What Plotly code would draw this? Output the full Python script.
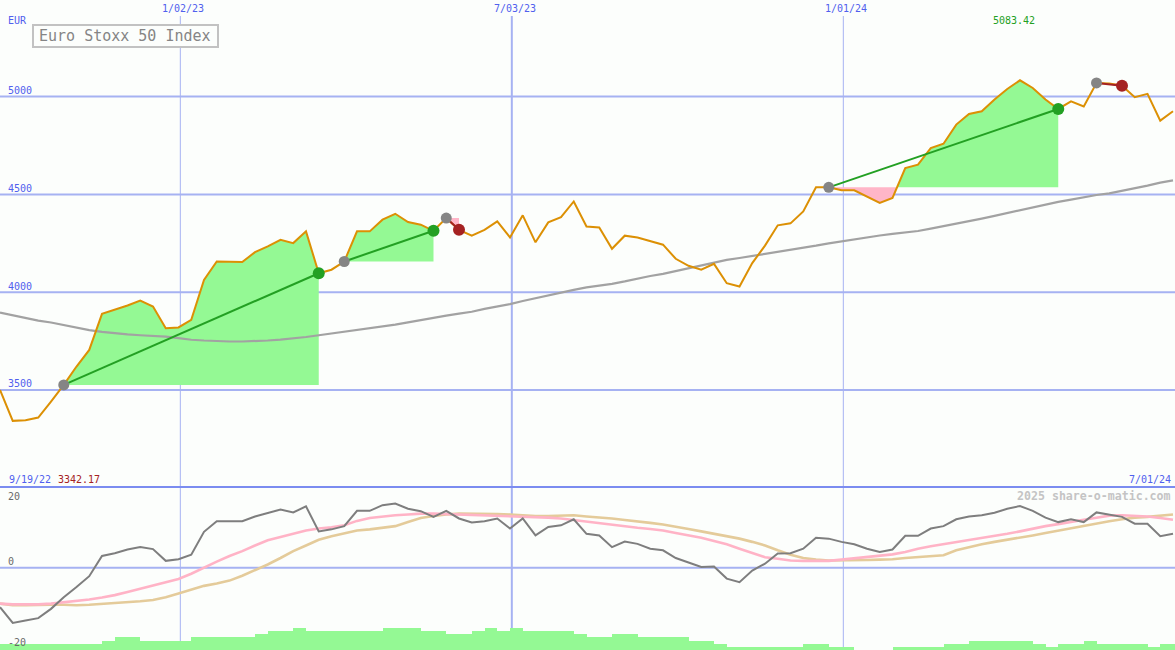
import plotly.graph_objects as go
import pandas as pd

# ---------------- data ----------------
START = "2022-09-25"
N_WEEKS = 93

price = [3500, 3342.17, 3345, 3359, 3441, 3526, 3620, 3705, 3889, 3910,
         3932, 3957, 3927, 3816, 3820, 3859, 4063, 4157, 4154, 4154,
         4205, 4234, 4268, 4251, 4311, 4097, 4115, 4157, 4311, 4311,
         4371, 4401, 4359, 4345, 4314, 4379, 4319, 4289, 4319, 4362,
         4280, 4393, 4255, 4357, 4384, 4464, 4336, 4331, 4222, 4289,
         4280, 4260, 4243, 4171, 4135, 4115, 4145, 4046, 4029, 4149,
         4238, 4342, 4352, 4413, 4536, 4536, 4521, 4521, 4487, 4456,
         4482, 4635, 4652, 4737, 4759, 4857, 4911, 4925, 4985, 5039,
         5083.42, 5044, 4985, 4937, 4976, 4950, 5070, 5067, 5056, 4997,
         5014, 4877, 4925]

ma_long = [3896, 3882, 3868, 3855, 3845, 3831, 3820, 3806, 3797, 3790,
           3784, 3780, 3777, 3773, 3765, 3757, 3753, 3750, 3748, 3748,
           3750, 3753, 3758, 3764, 3771, 3780, 3789, 3797, 3806, 3815,
           3824, 3834, 3846, 3858, 3870, 3880, 3890, 3900, 3915, 3927,
           3939, 3955, 3970, 3985, 3998, 4012, 4025, 4033, 4043, 4055,
           4070, 4083, 4094, 4108, 4122, 4137, 4152, 4165, 4175, 4185,
           4195, 4205, 4215, 4225, 4238, 4250, 4260, 4272, 4282, 4290,
           4298, 4306, 4313, 4325, 4337, 4350, 4362, 4376, 4390, 4405,
           4418, 4432, 4450, 4462, 4473, 4485, 4497, 4505, 4518, 4530,
           4545, 4560, 4572]

osc = [-9.8, -13.7, -13.1, -12.5, -10.2, -7.3, -4.8, -2.1, 2.9, 3.6,
       4.5, 5.1, 4.6, 1.7, 2.1, 3.2, 8.9, 11.5, 11.5, 11.5,
       12.7, 13.6, 14.4, 13.7, 15.2, 9.0, 9.5, 10.3, 14.1, 14.1,
       15.5, 15.9, 14.6, 14.0, 12.6, 14.1, 12.2, 11.2, 11.5, 12.2,
       9.7, 12.2, 8.0, 10.1, 10.5, 12.0, 8.4, 8.0, 5.1, 6.5,
       5.9, 4.7, 4.3, 2.4, 1.2, 0.2, 0.3, -2.7, -3.6, -0.7,
       1.0, 3.5, 3.6, 4.7, 7.4, 7.2, 6.4, 5.8, 4.7, 3.9,
       4.5, 7.9, 7.9, 9.7, 10.3, 12.0, 12.7, 13.0, 13.6, 14.6,
       15.3, 14.1, 12.4, 11.3, 12.0, 11.3, 13.7, 13.2, 12.6, 10.9,
       10.9, 7.8, 8.4]

osc_fast = [-8.9, -9.1, -9.1, -9.1, -8.9, -8.6, -8.3, -7.9, -7.4, -6.8,
            -6.0, -5.2, -4.3, -3.6, -2.8, -1.5, 0.1, 1.5, 2.9, 4.1,
            5.5, 6.8, 7.6, 8.4, 9.2, 9.7, 10.0, 10.5, 11.6, 12.3,
            12.7, 13.0, 13.2, 13.4, 13.4, 13.3, 13.2, 13.0, 13.0, 12.9,
            12.8, 12.7, 12.6, 12.4, 12.2, 11.8, 11.5, 11.1, 10.7, 10.3,
            9.9, 9.6, 9.2, 8.6, 8.0, 7.4, 6.6, 5.8, 4.7, 3.6,
            2.6, 2.2, 1.8, 1.7, 1.7, 1.7, 2.0, 2.3, 2.6, 2.9,
            3.3, 3.9, 4.7, 5.3, 5.8, 6.3, 6.8, 7.3, 7.9, 8.4,
            9.0, 9.7, 10.3, 10.8, 11.4, 11.9, 12.4, 12.9, 13.0, 12.9,
            12.7, 12.3, 11.9]

osc_slow = [-8.9, -9.3, -9.3, -9.2, -9.2, -9.2, -9.3, -9.2, -9.0, -8.8,
            -8.6, -8.3, -8.0, -7.3, -6.4, -5.5, -4.5, -3.9, -3.2, -2.0,
            -0.7, 0.8, 2.4, 4.1, 5.5, 6.9, 7.8, 8.5, 9.2, 9.5,
            9.9, 10.3, 11.3, 12.3, 12.8, 13.2, 13.4, 13.4, 13.4, 13.3,
            13.2, 13.0, 12.8, 12.8, 12.9, 13.0, 12.7, 12.5, 12.2, 11.8,
            11.5, 11.1, 10.7, 10.2, 9.6, 9.0, 8.4, 7.8, 7.2, 6.4,
            5.5, 4.3, 3.2, 2.4, 2.0, 1.8, 1.8, 1.8, 1.9, 2.0,
            2.1, 2.4, 2.6, 2.9, 3.1, 4.3, 5.1, 5.8, 6.4, 6.9,
            7.4, 8.0, 8.6, 9.2, 9.8, 10.3, 10.9, 11.5, 12.0, 12.4,
            12.6, 12.9, 13.2]

volume = [2, 2, 2, 2, 2, 2, 2, 2, 3, 4,
          4, 3, 3, 3, 3, 4, 4, 4, 4, 4,
          5, 6, 6, 7, 6, 6, 6, 6, 6, 6,
          7, 7, 7, 6, 6, 5, 5, 6, 7, 6,
          7, 6, 6, 6, 6, 5, 4, 4, 5, 5,
          4, 4, 4, 4, 3, 3, 2, 1, 1, 1,
          1, 1, 1, 2, 2, 1, 1, 0, 0, 0,
          1, 1, 1, 1, 2, 2, 3, 3, 3, 3,
          3, 2, 1, 2, 2, 3, 2, 2, 2, 2,
          1, 2, 2]

# trend segments (start week, end week)
segments = [(5, 25), (27, 34), (35, 36), (65, 83), (86, 88)]

grid_dates = ["2023-01-02", "2023-07-03", "2024-01-01"]
grid_labels = ["1/02/23", "7/03/23", "1/01/24"]
price_ticks = [3500, 4000, 4500, 5000]
osc_ticks = [20, 0, -20]

# ---------------- helpers ----------------
W, H = 1175, 650
start = pd.Timestamp(START)


def wk(t):
    return start + pd.Timedelta(days=7 * t)


dates = [wk(k) for k in range(N_WEEKS)]
x_end = start + pd.Timedelta(days=645.1)


def px(x):
    return x / W


def py(y):
    return 1 - y / H


BG = "#fcfefc"
GRID = "#a6b2f2"
LBL = "#5060ee"
GREEN_FILL = "#94f994"
PINK_FILL = "#ffb6c8"
ORANGE = "#dc9004"
GREEN = "#23a023"
RED = "#a52222"
GREY_M = "#858585"

fig = go.Figure()

# ---------------- fills ----------------
for a, b in segments:
    base = price[a]
    pts = []
    for k in range(a, b + 1):
        if k > a:
            p0, p1 = price[k - 1] - base, price[k] - base
            if p0 * p1 < 0:
                t = p0 / (p0 - p1)
                pts.append((k - 1 + t, base))
        pts.append((k, price[k]))
    xs = [wk(t) for t, _ in pts]
    up = [max(v, base) for _, v in pts]
    dn = [min(v, base) for _, v in pts]
    for ys, col in ((up, GREEN_FILL), (dn, PINK_FILL)):
        fig.add_trace(go.Scatter(x=xs, y=[base] * len(xs), mode="lines",
                                 line=dict(width=0), hoverinfo="skip",
                                 showlegend=False))
        fig.add_trace(go.Scatter(x=xs, y=ys, mode="lines", line=dict(width=0),
                                 fill="tonexty", fillcolor=col,
                                 hoverinfo="skip", showlegend=False))

# long moving average
fig.add_trace(go.Scatter(x=dates, y=ma_long, mode="lines",
                         line=dict(color="#a2a2a2", width=2.2),
                         showlegend=False))
# price
fig.add_trace(go.Scatter(x=dates, y=price, mode="lines",
                         line=dict(color=ORANGE, width=2),
                         showlegend=False))
# trend lines and markers
for a, b in segments:
    col = GREEN if price[b] > price[a] else RED
    fig.add_trace(go.Scatter(x=[dates[a], dates[b]], y=[price[a], price[b]],
                             mode="lines", line=dict(color=col, width=2),
                             showlegend=False))
for a, b in segments:
    col = GREEN if price[b] > price[a] else RED
    fig.add_trace(go.Scatter(x=[dates[a]], y=[price[a]], mode="markers",
                             marker=dict(color=GREY_M, size=11, line=dict(width=0)),
                             showlegend=False))
    fig.add_trace(go.Scatter(x=[dates[b]], y=[price[b]], mode="markers",
                             marker=dict(color=col, size=12, line=dict(width=0)),
                             showlegend=False))

# ---------------- lower panel ----------------
fig.add_trace(go.Bar(x=[wk(k + 0.5) for k in range(N_WEEKS)], y=volume,
                     width=7 * 86400000, marker=dict(color=GREEN_FILL, line=dict(width=0)),
                     xaxis="x2", yaxis="y3", showlegend=False))
fig.add_trace(go.Scatter(x=dates, y=osc_slow, mode="lines", xaxis="x2", yaxis="y2",
                         line=dict(color="#e4cb9a", width=2.6), showlegend=False))
fig.add_trace(go.Scatter(x=dates, y=osc_fast, mode="lines", xaxis="x2", yaxis="y2",
                         line=dict(color="#ffb3c6", width=2.6), showlegend=False))
fig.add_trace(go.Scatter(x=dates, y=osc, mode="lines", xaxis="x2", yaxis="y2",
                         line=dict(color="#7e7e7e", width=2), showlegend=False))

# ---------------- shapes ----------------
shapes = []
for v in price_ticks:
    shapes.append(dict(type="line", xref="paper", yref="y", x0=0, x1=1, y0=v, y1=v,
                       line=dict(color=GRID, width=2), layer="below"))
for dte, wdt in zip(grid_dates, [1, 2, 1]):
    shapes.append(dict(type="line", xref="x", yref="paper", x0=dte, x1=dte,
                       y0=0, y1=py(16), line=dict(color=GRID, width=wdt), layer="below"))
shapes.append(dict(type="line", xref="paper", yref="y2", x0=0, x1=1, y0=0, y1=0,
                   line=dict(color=GRID, width=2), layer="below"))
shapes.append(dict(type="line", xref="paper", yref="paper", x0=0, x1=1,
                   y0=py(487), y1=py(487), line=dict(color="#7b8cf0", width=2),
                   layer="above"))
shapes.append(dict(type="rect", xref="paper", yref="paper", x0=px(33), x1=px(218),
                   y0=py(47), y1=py(25), fillcolor=BG,
                   line=dict(color="#c2c2c2", width=2), layer="above"))

# ---------------- annotations ----------------
MONO = "DejaVu Sans Mono"
ann = []


def text(x, y, s, color, size=10, anchor="left", bold=False):
    ann.append(dict(x=px(x), y=py(y), xref="paper", yref="paper", text=s,
                    showarrow=False, xanchor=anchor, yanchor="middle",
                    font=dict(family=MONO, size=size, color=color,
                              weight="bold" if bold else "normal")))


text(5.5, 21, "EUR", LBL)
for dte, lab in zip(grid_dates, grid_labels):
    xp = (pd.Timestamp(dte) - start).days / 645.1 * W
    text(xp + 3, 9, lab, LBL, anchor="center")
for v in price_ticks:
    ypx = (5494 - v) / (5494 - 3004) * 487
    text(5.5, ypx - 6, str(v), LBL)
text(125, 36, "Euro Stoxx 50 Index", "#858585", size=15, anchor="center")
text(1013.5, 21, f"{max(price):.2f}", GREEN, anchor="center")
text(7, 479, "9/19/22", LBL)
text(56, 479, f"{min(price):.2f}", RED)
text(1172.5, 479, "7/01/24", LBL, anchor="right")
text(1172.5, 496, "2025 share-o-matic.com", "#c4c4c4", size=11.6, anchor="right", bold=True)
for v, yy in zip(osc_ticks, [496.7, 561.7, 642.3]):
    text(5.5, yy, str(v), "#6a6a6a")

fig.update_layout(
    width=W, height=H, margin=dict(l=0, r=0, t=0, b=0),
    paper_bgcolor=BG, plot_bgcolor=BG, showlegend=False, bargap=0,
    hovermode=False,
    xaxis=dict(range=[start, x_end], domain=[0, 1], anchor="y", visible=False),
    yaxis=dict(range=[3004, 5494], domain=[1 - 487 / 650, 1], anchor="x", visible=False),
    xaxis2=dict(range=[start, x_end], domain=[0, 1], anchor="y2", matches="x", visible=False),
    yaxis2=dict(range=[-20.4, 20], domain=[0, 1 - 487 / 650], anchor="x2", visible=False),
    yaxis3=dict(range=[0, 51.7], overlaying="y2", anchor="x2", visible=False),
    shapes=shapes, annotations=ann,
)

fig.write_html("out.html",
               config={"displayModeBar": False, "staticPlot": True},
               post_script="document.body.style.margin='0';"
                           "document.body.style.padding='0';"
                           "document.body.style.overflow='hidden';"
                           "document.documentElement.style.background='" + BG + "';")
